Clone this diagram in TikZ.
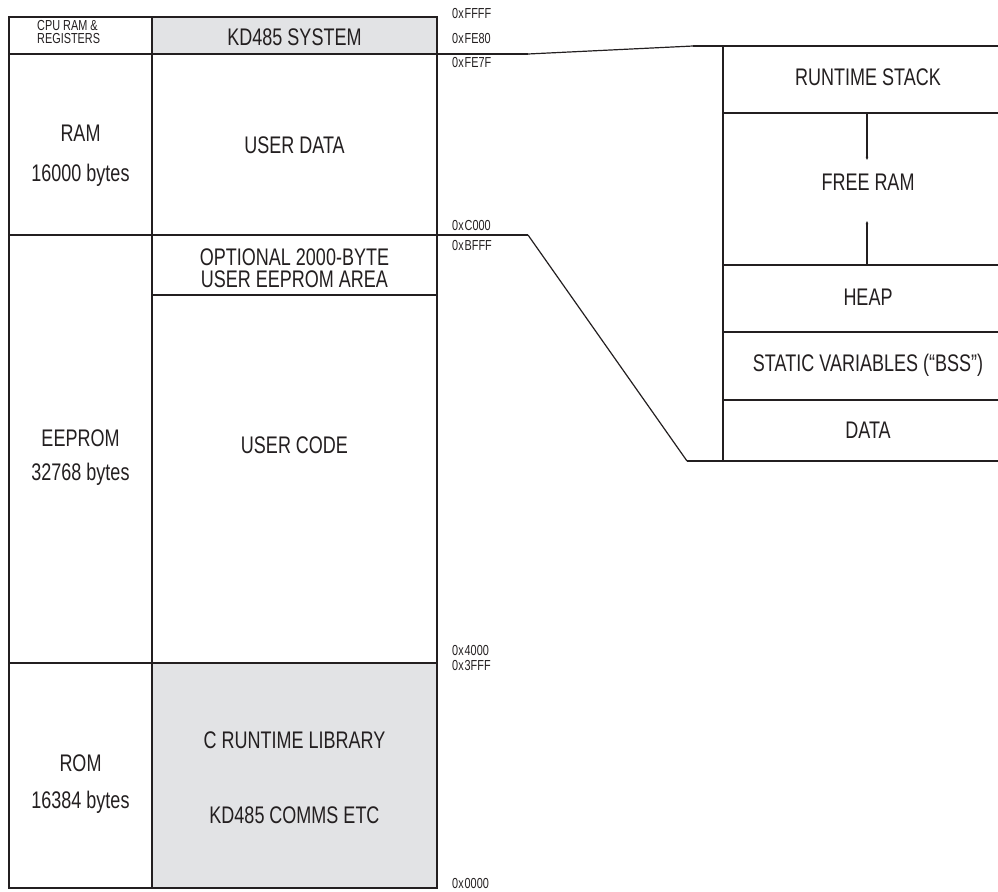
\documentclass[tikz,border=0pt]{standalone}
\usepackage{fontspec}
\setmainfont[FakeStretch=0.75]{Liberation Sans}
\usetikzlibrary{arrows.meta}
\definecolor{sysgray}{RGB}{226,227,229}
\definecolor{ink}{RGB}{35,31,32}
\newcommand{\hexsp}{\kern1pt}
\begin{document}
\begin{tikzpicture}[x=1pt,y=-1pt,
  box/.style={draw=ink,line width=2.2pt},
  link/.style={draw=ink,line width=1.2pt},
  big/.style={font=\fontsize{24}{26}\selectfont,text=ink,anchor=base,inner sep=0pt},
  small/.style={font=\fontsize{14.5}{16}\selectfont,text=ink,anchor=base west,inner sep=0pt},
  addr/.style={font=\fontsize{14.5}{16}\selectfont,text=ink,anchor=base west,inner sep=0pt},
  growline/.style={draw=ink,line width=1.5pt,-{Stealth[length=3pt,width=2.5pt]}}]
\useasboundingbox (0,0) rectangle (998,891);
% left block fills
\fill[sysgray] (152,17) rectangle (437,54);
\fill[sysgray] (152,663) rectangle (437,888);
% left block lines
\draw[box] (9,17) rectangle (437,888);
\draw[box] (152,17) -- (152,888);
\draw[box] (9,54) -- (437,54);
\draw[box] (9,235) -- (437,235);
\draw[box] (152,295) -- (437,295);
\draw[box] (9,663) -- (437,663);
% right block
\coordinate (rtop) at (693,46);
\coordinate (rbot) at (687,461);
\draw[box] (rtop) -- (998,46);
\draw[box] (723,46) -- (723,461);
\draw[box] (723,113) -- (998,113);
\draw[box] (723,265) -- (998,265);
\draw[box] (723,332) -- (998,332);
\draw[box] (723,400) -- (998,400);
\draw[box] (rbot) -- (998,461);
% connectors
\coordinate (ramtop) at (437,54);
\coordinate (ramtopk) at (528,54);
\coordinate (rambot) at (437,235);
\coordinate (rambotk) at (528,235);
\draw[box] (ramtop) -- (ramtopk);
\draw[link] (ramtopk) -- (rtop);
\draw[box] (rambot) -- (rambotk);
\draw[link] (rambotk) -- (rbot);
% left labels
\node[small] (cpu1) at (37,31) {CPU RAM \&};
\node[small] (cpu2) at (37,44) {REGISTERS};
\node[big] (sys) at (294.5,46) {KD485 SYSTEM};
\node[big] (ram) at (80.5,141.5) {RAM};
\node[big] (ramsz) at (80.5,181.5) {16000 bytes};
\node[big] (udata) at (294.5,153.5) {USER DATA};
\node[big] (opt1) at (294.5,265) {OPTIONAL 2000-BYTE};
\node[big] (opt2) at (294.5,287) {USER EEPROM AREA};
\node[big] (eep) at (80.5,446) {EEPROM};
\node[big] (eepsz) at (80.5,480.5) {32768 bytes};
\node[big] (ucode) at (294.5,453) {USER CODE};
\node[big] (rom) at (80.5,771.5) {ROM};
\node[big] (romsz) at (80.5,808.5) {16384 bytes};
\node[big] (crt) at (294.5,748.5) {C RUNTIME LIBRARY};
\node[big] (comms) at (294.5,823.5) {KD485 COMMS ETC};
% addresses
\node[addr] (aFFFF) at (452,18.5) {0x\hexsp FFFF};
\node[addr] (aFE80) at (452,43.5) {0x\hexsp FE80};
\node[addr] (aFE7F) at (452,67) {0x\hexsp FE7F};
\node[addr] (aC000) at (452,230.5) {0x\hexsp C000};
\node[addr] (aBFFF) at (452,250.5) {0x\hexsp BFFF};
\node[addr] (a4000) at (452,655.5) {0x\hexsp 4000};
\node[addr] (a3FFF) at (452,670) {0x\hexsp 3FFF};
\node[addr] (a0000) at (452,888) {0x\hexsp 0000};
% right labels
\node[big] (stack) at (868,85.5) {RUNTIME STACK};
\node[big] (free) at (868,190.5) {FREE RAM};
\node[big] (heap) at (868,305.5) {HEAP};
\node[big] (bss) at (868,371.5) {STATIC VARIABLES (“BSS”)};
\node[big] (data) at (868,438.5) {DATA};
\coordinate (fr1) at (867,113);
\coordinate (fr1e) at (867,160);
\coordinate (fr2) at (867,265);
\coordinate (fr2e) at (867,221);
\draw[growline] (fr1) -- (fr1e);
\draw[growline] (fr2) -- (fr2e);
\end{tikzpicture}
\end{document}
